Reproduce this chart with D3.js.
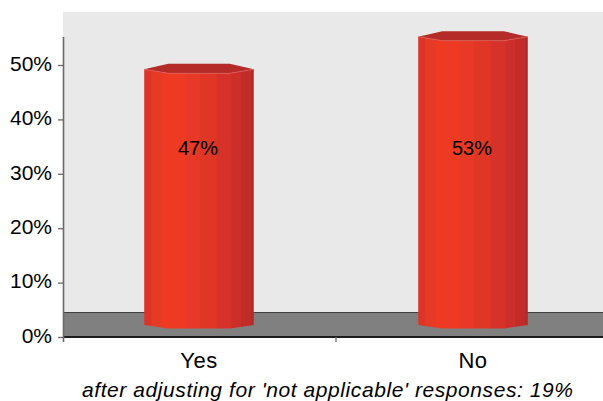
<!DOCTYPE html>
<html>
<head>
<meta charset="utf-8">
<script src="https://cdn.jsdelivr.net/npm/d3@7"></script>
<style>
  body { margin: 0; background: #fff; }
  text { font-family: 'Liberation Sans', Arial, sans-serif; fill: #000; }
</style>
</head>
<body>
<svg id="chart" width="603" height="401"></svg>
<script>
const categories = ['Yes', 'No'];
const values = [0.47, 0.53];
const tickValues = [0, 0.1, 0.2, 0.3, 0.4, 0.5];
const footnote = "after adjusting for 'not applicable' responses: 19%";

// shading of the cylinder facets, left to right
const facetStops = [0, 0.068, 0.16, 0.38, 0.51, 0.664, 0.8, 0.886, 0.97, 1];
const facetColors = ['#dc3527', '#e53a25', '#ee3a22', '#e83926', '#e03626',
  '#d63229', '#cc2f29', '#c22c28', '#b72a27'];

const svg = d3.select('#chart');
const W = +svg.attr('width');

const wall = { left: 63, top: 12, floorTop: 312, floorBottom: 337 };
const depth = 12; // bars sit half-way back on the floor

const y = d3.scaleLinear().domain([0, 0.5]).range([337, 65]);
const x = d3.scaleBand().domain(categories).range([62, 610]);
const barW = x.bandwidth() * 0.4;

// back wall
svg.append('rect')
  .attr('x', wall.left).attr('y', wall.top)
  .attr('width', W - wall.left).attr('height', wall.floorTop - wall.top)
  .attr('fill', '#e9e9e9');

// floor
svg.append('rect')
  .attr('x', wall.left).attr('y', wall.floorTop)
  .attr('width', W - wall.left).attr('height', wall.floorBottom - wall.floorTop)
  .attr('fill', '#808080');
svg.append('line')
  .attr('x1', wall.left).attr('x2', W)
  .attr('y1', wall.floorTop + 0.5).attr('y2', wall.floorTop + 0.5)
  .attr('stroke', '#3f3f3f').attr('stroke-width', 1);
svg.append('line')
  .attr('x1', wall.left).attr('x2', W)
  .attr('y1', wall.floorBottom).attr('y2', wall.floorBottom)
  .attr('stroke', '#1c1c1c').attr('stroke-width', 2);

// y axis
const yAxis = svg.append('g')
  .attr('transform', `translate(${wall.left},0)`)
  .call(d3.axisLeft(y)
    .tickValues(tickValues)
    .tickFormat(d3.format('.0%'))
    .tickSize(5)
    .tickPadding(6)
    .tickSizeOuter(0));
yAxis.select('.domain').remove();
yAxis.selectAll('.tick line').attr('stroke', '#6a6a6a').attr('stroke-width', 1.3);
yAxis.selectAll('.tick text')
  .attr('font-size', 21)
  .attr('font-family', "'Liberation Sans', Arial, sans-serif")
  .attr('dy', '0.25em');
svg.append('line')
  .attr('x1', wall.left + 0.5).attr('x2', wall.left + 0.5)
  .attr('y1', 37).attr('y2', 342)
  .attr('stroke', '#6a6a6a').attr('stroke-width', 1.6);

// category separator ticks
svg.selectAll('.catTick')
  .data(categories.slice(1))
  .enter().append('line')
  .attr('x1', d => x(d)).attr('x2', d => x(d))
  .attr('y1', wall.floorBottom).attr('y2', wall.floorBottom + 5)
  .attr('stroke', '#6a6a6a').attr('stroke-width', 1.3);

// bars
const defs = svg.append('defs');
const bars = svg.selectAll('.bar')
  .data(categories.map((c, i) => ({ key: c, value: values[i] })))
  .enter().append('g')
  .attr('class', 'bar');

function bodyPath(d) {
  const L = x(d.key) + (x.bandwidth() - barW) / 2;
  const t = y(d.value) - depth;
  const b = y(0) - depth;
  const p = d3.path();
  p.moveTo(L, t);
  p.lineTo(L + 0.22 * barW, t + 4);
  p.lineTo(L + 0.78 * barW, t + 4);
  p.lineTo(L + barW, t);
  p.lineTo(L + barW, b);
  p.lineTo(L + 0.78 * barW, b + 3.5);
  p.lineTo(L + 0.22 * barW, b + 3.5);
  p.lineTo(L, b);
  p.closePath();
  return p.toString();
}

bars.each(function(d, i) {
  const g = d3.select(this);
  const L = x(d.key) + (x.bandwidth() - barW) / 2;
  const t = y(d.value) - depth;
  const clipId = `clip-${i}`;
  defs.append('clipPath').attr('id', clipId)
    .append('path').attr('d', bodyPath(d));

  g.append('g')
    .attr('clip-path', `url(#${clipId})`)
    .selectAll('rect')
    .data(facetColors)
    .enter().append('rect')
    .attr('x', (c, k) => L + facetStops[k] * barW - 0.3)
    .attr('width', (c, k) => (facetStops[k + 1] - facetStops[k]) * barW + 0.6)
    .attr('y', t - 2)
    .attr('height', y(0) - t + 10)
    .attr('fill', c => c);

  // top face
  g.append('path')
    .attr('d', d3.line()([
      [L, t], [L + 0.22 * barW, t - 5.5], [L + 0.78 * barW, t - 5.5],
      [L + barW, t], [L + 0.78 * barW, t + 4], [L + 0.22 * barW, t + 4]
    ]) + 'Z')
    .attr('fill', '#b42b27');
  g.append('path')
    .attr('d', d3.line()([
      [L, t], [L + 0.22 * barW, t + 4], [L + 0.78 * barW, t + 4], [L + barW, t]
    ]))
    .attr('fill', 'none')
    .attr('stroke', '#e0625a')
    .attr('stroke-width', 0.7);
});

// data labels
bars.append('text')
  .attr('x', d => x(d.key) + x.bandwidth() / 2 - 1)
  .attr('y', y(0.335))
  .attr('text-anchor', 'middle')
  .attr('font-size', 20)
  .text(d => d3.format('.0%')(d.value));

// category labels
svg.selectAll('.catLabel')
  .data(categories)
  .enter().append('text')
  .attr('x', d => x(d) + x.bandwidth() / 2)
  .attr('y', 368)
  .attr('text-anchor', 'middle')
  .attr('font-size', 22)
  .attr('letter-spacing', 0.5)
  .text(d => d);

// footnote
svg.append('text')
  .attr('x', 82)
  .attr('y', 397)
  .attr('font-size', 21)
  .attr('font-style', 'italic')
  .attr('textLength', 491)
  .attr('lengthAdjust', 'spacing')
  .text(footnote);
</script>
</body>
</html>
